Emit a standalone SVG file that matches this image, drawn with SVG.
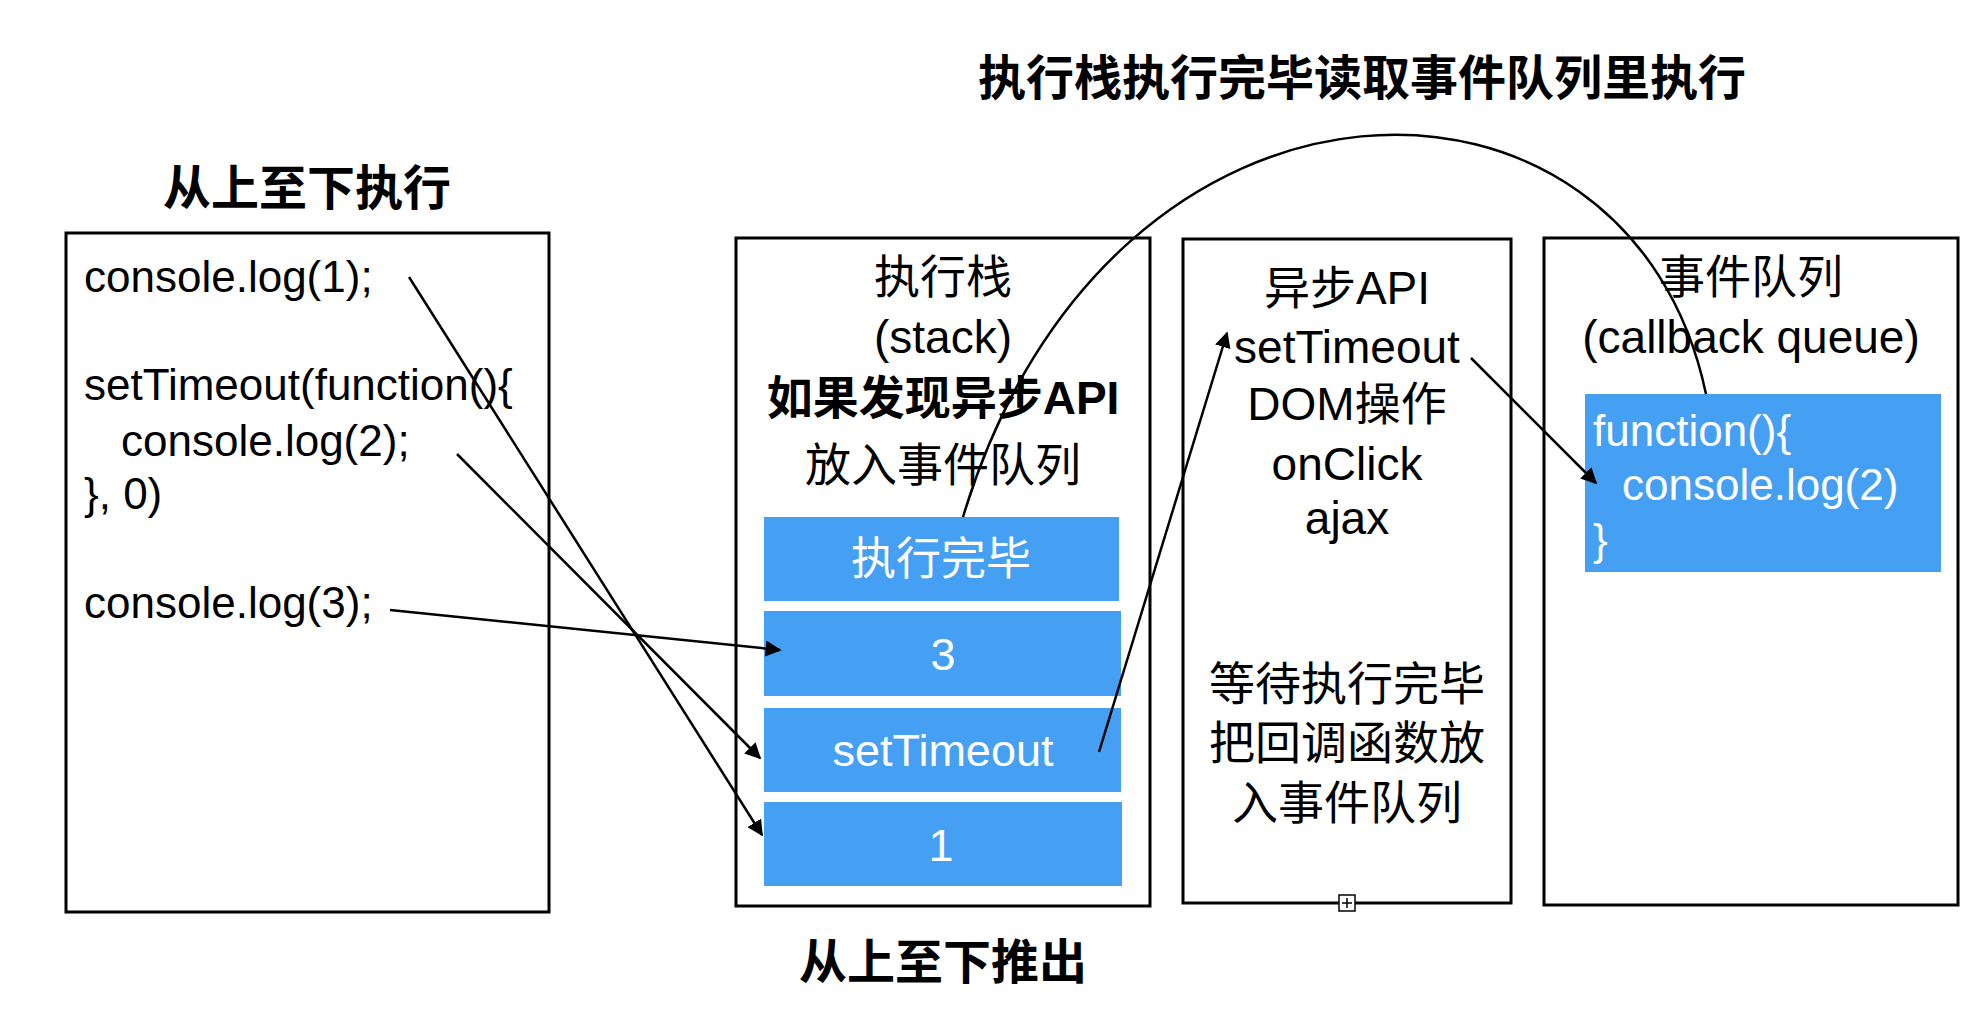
<svg xmlns="http://www.w3.org/2000/svg" width="1982" height="1010" viewBox="0 0 1982 1010">
<defs>
<marker id="ah2" viewBox="0 0 10 10" refX="9" refY="5" markerWidth="16" markerHeight="16" markerUnits="userSpaceOnUse" orient="auto"><path d="M0,0 L10,5 L0,10 z" fill="#000"/></marker>
<style>
text{font-family:"Liberation Sans","Noto Sans CJK SC",sans-serif;fill:#000}
.t{font-size:46px;text-anchor:middle}
.h{font-size:48px;font-weight:bold;text-anchor:middle}
.c{font-size:44px}
.w{fill:#fff;font-size:45px;text-anchor:middle}
.wl{fill:#fff;font-size:44px;text-anchor:start}
.box{fill:#fff;stroke:#000;stroke-width:3}
.blue{fill:#459ff2}
.ln{fill:none;stroke:#000;stroke-width:2.5}
</style>
</defs>
<rect width="1982" height="1010" fill="#fff"/>
<text class="h" x="1362" y="95">执行栈执行完毕读取事件队列里执行</text>
<text class="h" x="307" y="205">从上至下执行</text>
<text class="h" x="943" y="979">从上至下推出</text>
<g id="code">
<rect class="box" x="66" y="233" width="483" height="679" stroke-width="4"/>
<text class="c" x="84" y="292">console.log(1);</text>
<text class="c" x="84" y="400">setTimeout(function(){</text>
<text class="c" x="121" y="456">console.log(2);</text>
<text class="c" x="84" y="509">}, 0)</text>
<text class="c" x="84" y="618">console.log(3);</text>
</g>
<g id="stack">
<rect class="box" x="736" y="238" width="414" height="668"/>
<text class="t" x="943" y="293">执行栈</text>
<text class="t" x="943" y="353">(stack)</text>
<text class="t" x="943" y="414" font-weight="bold">如果发现异步API</text>
<text class="t" x="943" y="481">放入事件队列</text>
<rect class="blue" x="764" y="517" width="355" height="84"/>
<text class="w" x="941" y="575">执行完毕</text>
<rect class="blue" x="764" y="611" width="357" height="85"/>
<text class="w" x="943" y="670">3</text>
<rect class="blue" x="764" y="708" width="357" height="84"/>
<text class="w" x="943" y="766">setTimeout</text>
<rect class="blue" x="764" y="802" width="358" height="84"/>
<text class="w" x="941" y="861">1</text>
</g>
<g id="async">
<rect class="box" x="1183" y="239" width="328" height="664"/>
<text class="t" x="1347" y="304">异步API</text>
<text class="t" x="1347" y="363">setTimeout</text>
<text class="t" x="1347" y="420">DOM操作</text>
<text class="t" x="1347" y="480">onClick</text>
<text class="t" x="1347" y="534">ajax</text>
<text class="t" x="1347" y="700">等待执行完毕</text>
<text class="t" x="1347" y="759">把回调函数放</text>
<text class="t" x="1347" y="819">入事件队列</text>
<rect x="1339" y="895" width="16" height="16" fill="#fff" stroke="#000" stroke-width="1.5"/>
<path d="M1347,898 V908 M1342,903 H1352" stroke="#000" stroke-width="1.5"/>
</g>
<g id="queue">
<rect class="box" x="1544" y="238" width="414" height="667"/>
<text class="t" x="1751" y="293">事件队列</text>
<text class="t" x="1751" y="353">(callback queue)</text>
<rect class="blue" x="1585" y="394" width="356" height="178"/>
<text class="wl" x="1593" y="446">function(){</text>
<text class="wl" x="1622" y="500">console.log(2)</text>
<text class="wl" x="1593" y="555">}</text>
</g>
<g id="connectors">
<line class="ln" x1="409" y1="277" x2="762" y2="835" marker-end="url(#ah2)"/>
<line class="ln" x1="457" y1="454" x2="760" y2="758" marker-end="url(#ah2)"/>
<line class="ln" x1="390" y1="610" x2="780" y2="650" stroke-width="3.5" marker-end="url(#ah2)"/>
<line class="ln" x1="1099" y1="752" x2="1227" y2="333" marker-end="url(#ah2)"/>
<line class="ln" x1="1471" y1="358" x2="1596" y2="483" marker-end="url(#ah2)"/>
<path class="ln" d="M963,517 C1110,30 1630,30 1706,394"/>
</g>
</svg>
